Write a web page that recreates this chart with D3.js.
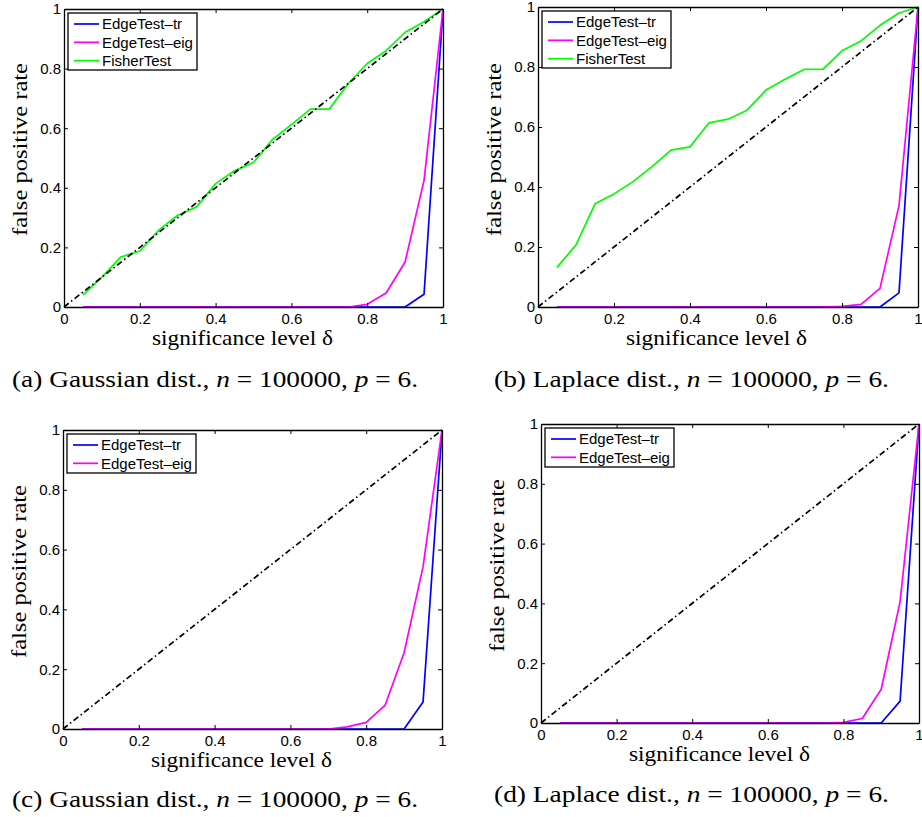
<!DOCTYPE html>
<html>
<head>
<meta charset="utf-8">
<script src="https://cdn.jsdelivr.net/npm/d3@7"></script>
<style>
  body { margin: 0; background: #fff; }
  text { fill: #000; }
  .sans { font-family: "Liberation Sans", Arial, Helvetica, sans-serif; }
  .serif { font-family: "Liberation Serif", "Times New Roman", Times, serif; }
</style>
</head>
<body>
<svg id="fig" width="922" height="817"></svg>
<script>
// significance levels used in every panel
const delta = [0.05, 0.10, 0.15, 0.20, 0.25, 0.30, 0.35, 0.40, 0.45, 0.50,
               0.55, 0.60, 0.65, 0.70, 0.75, 0.80, 0.85, 0.90, 0.95, 1.00];

// (a) Gaussian, 3 tests
const trA     = [0, 0, 0, 0, 0, 0, 0, 0, 0, 0, 0, 0, 0, 0, 0, 0, 0, 0, 0.043, 1];
const eigA    = [0, 0, 0, 0, 0, 0, 0, 0, 0, 0, 0, 0, 0, 0, 0, 0.009, 0.047, 0.151, 0.425, 1];
const fisherA = [0.041, 0.100, 0.168, 0.188, 0.258, 0.308, 0.336, 0.414, 0.457, 0.485,
                 0.562, 0.612, 0.664, 0.664, 0.750, 0.817, 0.860, 0.922, 0.957, 1];

// (b) Laplace, 3 tests
const trB     = [0, 0, 0, 0, 0, 0, 0, 0, 0, 0, 0, 0, 0, 0, 0, 0, 0, 0, 0.047, 1];
const eigB    = [0, 0, 0, 0, 0, 0, 0, 0, 0, 0, 0, 0, 0, 0, 0, 0.002, 0.009, 0.062, 0.338, 1];
const fisherB = [0.132, 0.207, 0.344, 0.377, 0.418, 0.468, 0.523, 0.534, 0.614, 0.626,
                 0.656, 0.723, 0.759, 0.792, 0.793, 0.854, 0.887, 0.939, 0.980, 1];

// (c) Gaussian, edge tests only
const trC  = [0, 0, 0, 0, 0, 0, 0, 0, 0, 0, 0, 0, 0, 0, 0, 0, 0, 0, 0.090, 1];
const eigC = [0, 0, 0, 0, 0, 0, 0, 0, 0, 0, 0, 0, 0, 0, 0.007, 0.022, 0.080, 0.255, 0.543, 1];

// (d) Laplace, edge tests only
const trD  = [0, 0, 0, 0, 0, 0, 0, 0, 0, 0, 0, 0, 0, 0, 0, 0, 0, 0, 0.073, 1];
const eigD = [0, 0, 0, 0, 0, 0, 0, 0, 0, 0, 0, 0, 0, 0, 0, 0.002, 0.015, 0.113, 0.406, 1];

const ticks = [0, 0.2, 0.4, 0.6, 0.8, 1];
const seriesNames = ["EdgeTest\u2013tr", "EdgeTest\u2013eig", "FisherTest"];
const seriesColors = ["#0000ff", "#ff00ff", "#00ff00"];
const captionHeads = ["(a) Gaussian dist., ", "(b) Laplace dist., ", "(c) Gaussian dist., ", "(d) Laplace dist., "];

const panels = [
  { box: [64, 443, 9, 307],    series: [trA, eigA, fisherA], cap: [12, 387, 406] },
  { box: [538, 918, 7, 307],   series: [trB, eigB, fisherB], cap: [494, 387, 395] },
  { box: [63, 442, 430, 729],  series: [trC, eigC],          cap: [12, 807, 406] },
  { box: [541, 919, 424, 723], series: [trD, eigD],          cap: [494, 802, 395] }
];

const svg = d3.select("#fig");

panels.forEach((p, i) => {
  const [x0, x1, y0, y1] = p.box;
  const x = d3.scaleLinear().domain([0, 1]).range([x0, x1]);
  const y = d3.scaleLinear().domain([0, 1]).range([y1, y0]);
  const g = svg.append("g");

  // curves
  const line = d3.line().x((d, k) => x(delta[k])).y(d => y(d));
  p.series.forEach((s, k) => {
    g.append("path")
      .datum(s)
      .attr("d", line)
      .attr("fill", "none")
      .attr("stroke", seriesColors[k])
      .attr("stroke-width", 1.7)
      .attr("stroke-linejoin", "round");
  });

  // reference diagonal
  g.append("path")
    .datum([0, 1])
    .attr("d", d3.line().x(d => x(d)).y(d => y(d)))
    .attr("stroke", "#000")
    .attr("stroke-width", 1.7)
    .attr("stroke-dasharray", "6,3,1.5,3");

  // axes, inward ticks on all four sides
  const fmt = d => d3.format("~g")(d);
  const bottom = g.append("g").attr("transform", `translate(0,${y1})`)
    .call(d3.axisBottom(x).tickValues(ticks).tickSizeInner(-4).tickSizeOuter(0).tickPadding(8).tickFormat(fmt));
  const top = g.append("g").attr("transform", `translate(0,${y0})`)
    .call(d3.axisTop(x).tickValues(ticks).tickSizeInner(-4).tickSizeOuter(0).tickFormat(""));
  const left = g.append("g").attr("transform", `translate(${x0},0)`)
    .call(d3.axisLeft(y).tickValues(ticks).tickSizeInner(-4).tickSizeOuter(0).tickPadding(6).tickFormat(fmt));
  const right = g.append("g").attr("transform", `translate(${x1},0)`)
    .call(d3.axisRight(y).tickValues(ticks).tickSizeInner(-4).tickSizeOuter(0).tickFormat(""));
  [bottom, top, left, right].forEach(a => {
    a.attr("font-family", null).attr("font-size", null);
    a.selectAll("path").attr("stroke", "#000").attr("stroke-width", 1.3);
    a.selectAll("line").attr("stroke", "#000");
    a.selectAll("text").attr("class", "sans").attr("font-size", 15).attr("fill", "#000");
  });
  bottom.selectAll("text").attr("dy", null).attr("y", 16.5);
  left.selectAll("text").attr("x", -3);

  // legend
  const names = seriesNames.slice(0, p.series.length);
  const leg = g.append("g").attr("transform", `translate(${x0 + 4},${y0 + 4})`);
  leg.append("rect")
    .attr("width", 129)
    .attr("height", names.length === 3 ? 57 : 39)
    .attr("fill", "#fff")
    .attr("stroke", "#000")
    .attr("stroke-width", 1.3);
  names.forEach((n, k) => {
    const ry = 11 + k * 18.3;
    leg.append("line")
      .attr("x1", 6).attr("x2", 31).attr("y1", ry).attr("y2", ry)
      .attr("stroke", seriesColors[k]).attr("stroke-width", 1.7);
    leg.append("text")
      .attr("class", "sans")
      .attr("x", 34).attr("y", ry + 5.3)
      .attr("font-size", 15)
      .text(n);
  });

  // axis labels
  g.append("text")
    .attr("class", "serif")
    .attr("x", x0 + 88).attr("y", y1 + 38)
    .attr("font-size", 21)
    .attr("textLength", 181).attr("lengthAdjust", "spacingAndGlyphs")
    .text("significance level \u03b4");
  g.append("text")
    .attr("class", "serif")
    .attr("transform", `translate(${x0 - 37},${y1 - 71}) rotate(-90)`)
    .attr("font-size", 21)
    .attr("textLength", 173).attr("lengthAdjust", "spacingAndGlyphs")
    .text("false positive rate");

  // caption
  const [cx, cy, cw] = p.cap;
  const cap = svg.append("text")
    .attr("class", "serif")
    .attr("x", cx).attr("y", cy)
    .attr("font-size", 23)
    .attr("textLength", cw).attr("lengthAdjust", "spacingAndGlyphs");
  cap.append("tspan").text(captionHeads[i]);
  cap.append("tspan").attr("font-style", "italic").text("n");
  cap.append("tspan").text(" = 100000, ");
  cap.append("tspan").attr("font-style", "italic").text("p");
  cap.append("tspan").text(" = 6.");
});
</script>
</body>
</html>
